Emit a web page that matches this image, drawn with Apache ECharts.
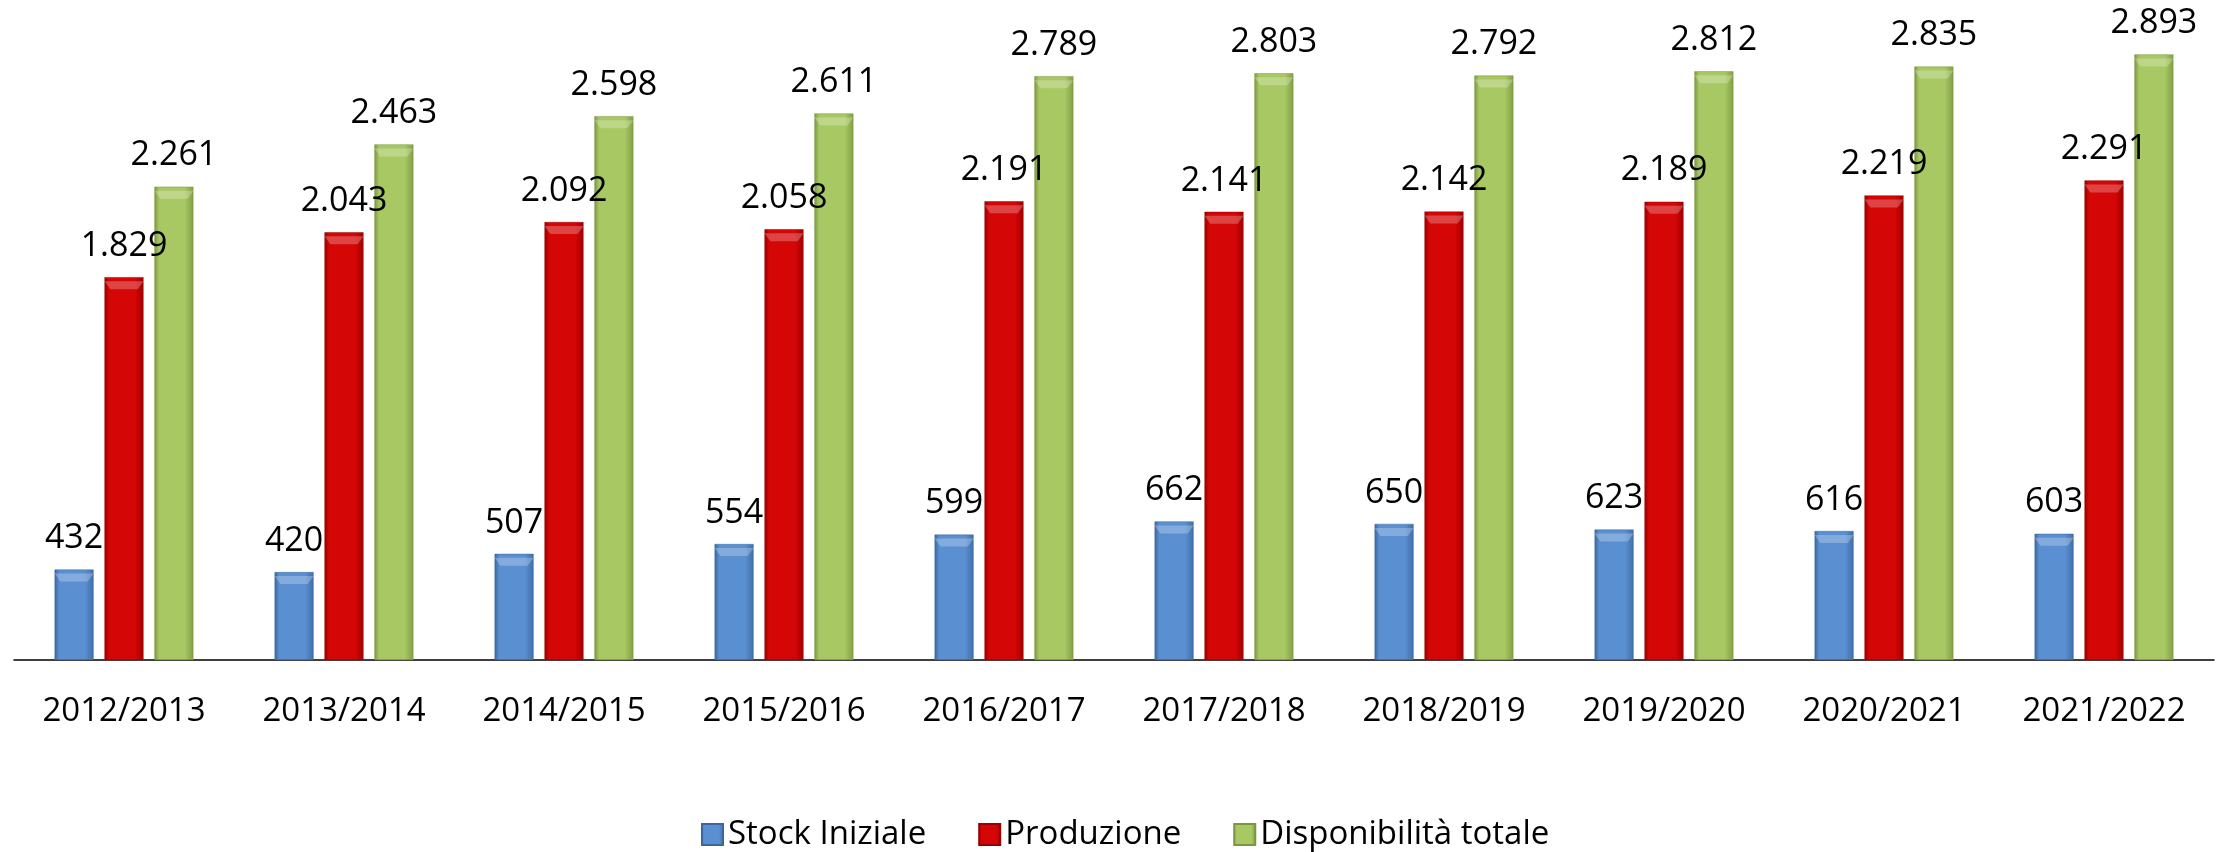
<!DOCTYPE html>
<html>
<head>
<meta charset="utf-8">
<script src="https://cdn.jsdelivr.net/npm/echarts@6/dist/echarts.min.js"></script>
<style>
  html, body { margin: 0; padding: 0; background: #fff; }
  #chart { width: 2223px; height: 852px; }
</style>
</head>
<body>
<div id="chart"></div>
<script>
var years = ['2012/2013','2013/2014','2014/2015','2015/2016','2016/2017','2017/2018','2018/2019','2019/2020','2020/2021','2021/2022'];
var stockIniziale = [432, 420, 507, 554, 599, 662, 650, 623, 616, 603];
var produzione = [1829, 2043, 2092, 2058, 2191, 2141, 2142, 2189, 2219, 2291];
var disponibilita = [2261, 2463, 2598, 2611, 2789, 2803, 2792, 2812, 2835, 2893];
var seriesNames = ['Stock Iniziale', 'Produzione', 'Disponibilità totale'];

var FONT = '"Open Sans", "Noto Sans", sans-serif';

// edge, centre, right edge colours for the bevelled bars
var shades = [
  ['#3a679e', '#5a8fd1', '#3f70ab'],
  ['#990000', '#d40606', '#a30000'],
  ['#7a963f', '#a8c863', '#80a044']
];

function grad(s) {
  return new echarts.graphic.LinearGradient(0, 0, 1, 0, [
    {offset: 0, color: s[0]},
    {offset: 0.12, color: s[1]},
    {offset: 0.78, color: s[1]},
    {offset: 1, color: s[2]}
  ]);
}

function fmt(v) {
  return String(v).replace(/\B(?=(\d{3})+(?!\d))/g, '.');
}

var myChart = echarts.init(document.getElementById('chart'));

var datas = [stockIniziale, produzione, disponibilita];
var series = [];
var each = function(arr, fn){ for (var i = 0; i < arr.length; i++) fn(i, arr[i]); };

each(datas, function(i, d){
  series.push({
    name: seriesNames[i],
    type: 'bar',
    data: d,
    barWidth: 39,
    barGap: '28%',
    itemStyle: {color: grad(shades[i]), borderColor: shades[i][0], borderWidth: 0.5},
    label: {
      show: true,
      position: 'top',
      distance: 14,
      color: '#000',
      fontFamily: FONT,
      fontSize: 34,
      formatter: function(p){ return fmt(p.value); }
    }
  });
});
// light top bevel on each bar
each(datas, function(i, d){
  series.push({
    type: 'pictorialBar',
    data: d,
    barWidth: 39,
    barGap: '28%',
    symbol: 'path://M0,0 L10,0 L8.5,2 L1.5,2 Z',
    symbolSize: [39, 8],
    symbolPosition: 'end',
    symbolOffset: [0, '50%'],
    itemStyle: {color: 'rgba(255,255,255,0.25)'},
    silent: true,
    z: 3
  });
});

option = {
  backgroundColor: '#fff',
  animation: false,
  grid: {left: 14, right: 9, top: 32, bottom: 192, containLabel: false},
  legend: {
    data: seriesNames,
    left: 696,
    top: 813,
    icon: 'rect',
    itemWidth: 21,
    itemHeight: 21,
    itemGap: 52,
    textStyle: {fontFamily: FONT, fontSize: 33, color: '#000'}
  },
  xAxis: {
    type: 'category',
    data: years,
    axisLine: {lineStyle: {color: '#000', width: 1.5}},
    axisTick: {show: false},
    axisLabel: {color: '#000', fontFamily: FONT, fontSize: 33, margin: 35}
  },
  yAxis: {
    type: 'value',
    min: 0,
    max: 3000,
    show: false,
    splitLine: {show: false}
  },
  series: series
};
myChart.setOption(option);
</script>
</body>
</html>
